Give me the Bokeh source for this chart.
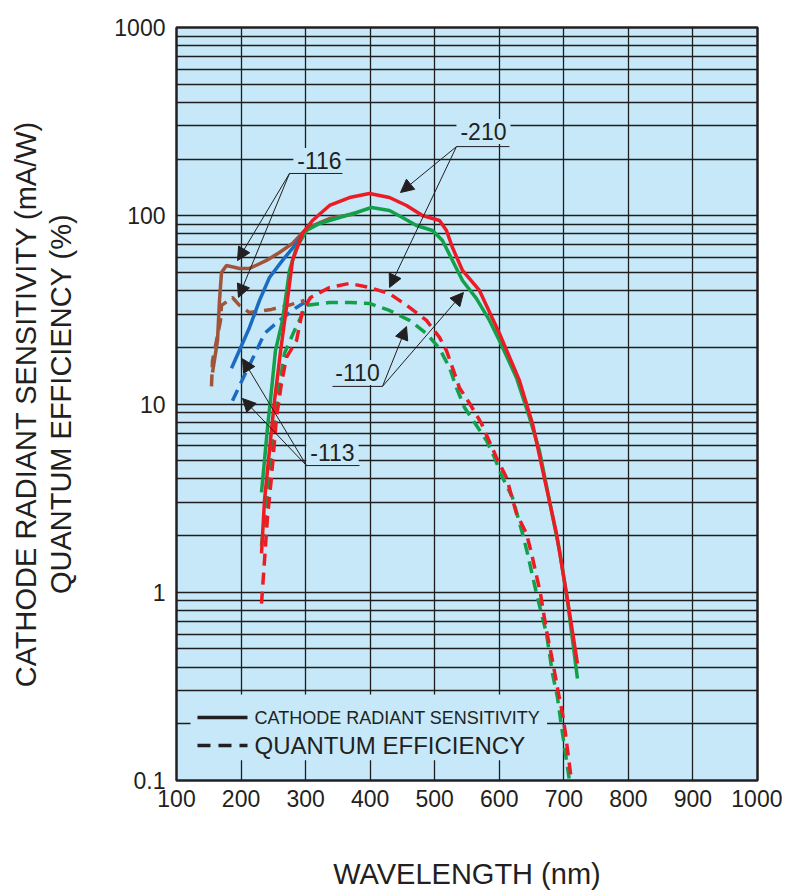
from bokeh.plotting import figure
from bokeh.models import FixedTicker, Label, Arrow, NormalHead, BoxAnnotation
from bokeh.embed import file_html
from bokeh.resources import INLINE

# ---------------- data ----------------
# -210 (red)
red_sens_nm = [231.7, 236.3, 244.0, 251.8, 258.0, 261.1, 270.4, 279.7, 295.2, 310.7, 337.0, 368.0,
               398.9, 429.9, 456.3, 481.0, 507.4, 518.2, 527.5, 543.0, 569.3, 600.3, 631.3, 651.4,
               673.1, 688.6, 704.1, 721.1]
red_sens = [1.61, 3.07, 5.66, 10.4, 15.5, 19.0, 32.6, 57.9, 80.5, 94.4, 113.4, 125.0,
            131.3, 125.0, 113.4, 100.3, 94.4, 83.5, 67.8, 51.2, 40.1, 23.7, 13.3, 7.88,
            3.60, 2.05, 0.985, 0.418]
red_qe_nm = [231.7, 236.3, 240.9, 247.1, 254.9, 262.6, 270.4, 285.9, 295.2, 307.7, 337.0, 368.0,
             398.9, 429.9, 460.9, 487.2, 507.4, 518.2, 527.5, 538.3, 553.8, 572.4, 595.6, 611.1,
             626.6, 642.1, 649.9, 663.8, 673.1, 682.4, 691.7, 697.9, 702.5, 707.2, 711.8, 713.4]
red_qe = [0.871, 1.47, 2.50, 4.07, 8.48, 12.9, 17.7, 21.7, 31.4, 36.8, 41.6, 43.7,
          41.6, 38.6, 32.6, 27.8, 22.6, 19.2, 15.6, 12.2, 10.1, 7.88, 5.20, 4.07,
          2.62, 2.05, 1.61, 0.985, 0.626, 0.434, 0.290, 0.227, 0.178, 0.1325, 0.100, 0.0885]

# -110 (green)
green_sens_nm = [231.7, 241.0, 247.1, 253.3, 264.2, 275.0, 285.9, 301.4, 321.5, 352.5, 378.8, 402.0,
                 429.9, 450.0, 471.7, 496.5, 512.0, 527.5, 543.0, 564.7, 584.8, 600.3, 626.6, 646.8,
                 662.2, 677.7, 693.2, 705.6, 721.1]
green_sens = [3.39, 7.50, 11.8, 19.2, 27.8, 51.2, 67.8, 83.5, 91.0, 97.9, 104.1, 110.6,
              106.6, 97.9, 88.8, 83.5, 73.9, 57.9, 45.3, 36.3, 27.8, 21.7, 13.8, 8.48,
              5.66, 3.07, 1.67, 0.904, 0.348]
green_qe_nm = [231.7, 237.9, 244.0, 251.8, 259.5, 267.3, 282.8, 301.4, 337.0, 368.0, 398.9, 429.9,
               460.9, 487.2, 507.4, 522.9, 533.7, 546.1, 561.6, 580.2, 592.5, 605.0, 620.4, 635.9,
               643.7, 657.6, 673.1, 682.4, 690.1, 697.9, 704.1, 708.7, 710.2]
green_qe = [1.77, 2.72, 4.43, 8.17, 12.5, 18.6, 24.6, 33.4, 34.6, 34.6, 34.2, 31.4,
            27.8, 23.7, 19.7, 15.6, 12.2, 9.58, 7.97, 6.40, 5.20, 4.07, 3.19, 2.05,
            1.61, 0.985, 0.604, 0.370, 0.276, 0.178, 0.128, 0.100, 0.0885]

# -113 (blue)
blue_sens_nm = [185.2, 213.1, 228.6, 244.0, 264.2, 285.9, 299.8]
blue_sens = [15.5, 25.5, 35.5, 47.0, 57.9, 71.3, 83.5]
blue_qe_nm = [186.7, 205.3, 223.9, 236.3, 259.5, 285.9, 298.3]
blue_qe = [10.4, 14.2, 19.2, 23.7, 27.8, 32.6, 34.6]

# -116 (brown)
brown_sens_nm = [155.8, 163.5, 166.6, 169.7, 177.4, 197.6, 213.1, 239.4, 259.5, 279.7, 301.4, 337.0, 378.8]
brown_sens = [14.7, 21.7, 35.5, 49.9, 54.4, 52.5, 52.5, 57.9, 63.8, 71.3, 85.6, 96.7, 102.8]
brown_qe_nm = [154.2, 155.8, 168.2, 169.7, 186.7, 197.6, 213.1, 247.1, 278.1, 298.3]
brown_qe = [12.4, 17.0, 27.8, 33.4, 36.8, 33.4, 30.6, 31.8, 33.8, 35.5]

x_ticks = [100, 200, 300, 400, 500, 600, 700, 800, 900, 1000]
y_ticks = [0.1, 1, 10, 100, 1000]
y_tick_labels = ["0.1", "1", "10", "100", "1000"]

series_labels = ["-116", "-210", "-110", "-113"]
legend_labels = ["CATHODE RADIANT SENSITIVITY", "QUANTUM EFFICIENCY"]

# ---------------- styles ----------------
BG = "#c6e8f8"
RED = "#ec1c24"
GREEN = "#13a04a"
BLUE = "#1b6cc0"
BROWN = "#a0553a"
INK = "#231f20"
FONT = "Liberation Sans"
LW = 3.5
DASH = "12 7"

p = figure(x_range=(100, 1000), y_range=(0.1, 1000), y_axis_type="log",
           frame_width=581, frame_height=753,
           min_border_left=176, min_border_right=25, min_border_top=27, min_border_bottom=106,
           output_backend="svg", toolbar_location=None)
p.background_fill_color = BG
p.border_fill_color = "white"
p.outline_line_color = INK
p.outline_line_width = 2.5

# grid
minor_y = [m * 10.0 ** e for e in range(-1, 3) for m in range(1, 10)] + [1000]
p.xgrid.ticker = FixedTicker(ticks=x_ticks)
p.ygrid.ticker = FixedTicker(ticks=minor_y)
for g in (p.xgrid[0], p.ygrid[0]):
    g.grid_line_color = "#1e1e1e"
    g.grid_line_width = 1.3
    g.grid_line_alpha = 1.0
p.ygrid.minor_grid_line_color = None

# axes
p.xaxis.ticker = FixedTicker(ticks=x_ticks)
p.yaxis.ticker = FixedTicker(ticks=y_ticks)
p.yaxis.major_label_overrides = {v: s for v, s in zip(y_ticks, y_tick_labels)}
for ax in (p.xaxis[0], p.yaxis[0]):
    ax.axis_line_color = None
    ax.major_tick_in = 0
    ax.major_tick_out = 0
    ax.minor_tick_in = 0
    ax.minor_tick_out = 0
    ax.major_label_text_font = FONT
    ax.major_label_text_font_size = "23px"
    ax.major_label_text_color = INK
    ax.axis_label_text_font = FONT
    ax.axis_label_text_font_size = "29px"
    ax.axis_label_text_font_style = "normal"
    ax.axis_label_text_color = INK
    ax.axis_label_text_line_height = 1.1
p.xaxis.major_label_standoff = 9
p.yaxis.major_label_standoff = 11
p.xaxis.axis_label = "WAVELENGTH (nm)"
p.xaxis.axis_label_standoff = 48
p.yaxis.axis_label = "CATHODE RADIANT SENSITIVITY (mA/W)\nQUANTUM EFFICIENCY (%)"
p.yaxis.axis_label_standoff = 34

# curves
p.line(green_qe_nm, green_qe, line_color=GREEN, line_width=LW, line_dash=DASH)
p.line(red_qe_nm, red_qe, line_color=RED, line_width=LW, line_dash=DASH)
p.line(blue_qe_nm, blue_qe, line_color=BLUE, line_width=LW, line_dash=DASH)
p.line(brown_qe_nm, brown_qe, line_color=BROWN, line_width=LW, line_dash=DASH)
p.line(brown_sens_nm, brown_sens, line_color=BROWN, line_width=LW)
p.line(blue_sens_nm, blue_sens, line_color=BLUE, line_width=LW)
p.line(green_sens_nm, green_sens, line_color=GREEN, line_width=LW)
p.line(red_sens_nm, red_sens, line_color=RED, line_width=LW)

# legend (drawn by hand to match the reference)
p.add_layout(BoxAnnotation(left=121.7, right=674, bottom=0.128, top=0.286,
                           fill_color=BG, fill_alpha=1, line_color=None))
p.add_layout(Arrow(end=None, x_start=132.5, y_start=0.216, x_end=210.0, y_end=0.216,
                   line_color=INK, line_width=3.5))
p.add_layout(Arrow(end=None, x_start=132.5, y_start=0.1534, x_end=210.0, y_end=0.1534,
                   line_color=INK, line_width=3.5, line_dash="13 8"))
p.add_layout(Label(x=220.8, y=0.216, text=legend_labels[0], text_font=FONT,
                   text_font_size="18px", text_color=INK, text_baseline="middle"))
p.add_layout(Label(x=220.8, y=0.1534, text=legend_labels[1], text_font=FONT,
                   text_font_size="24px", text_color=INK, text_baseline="middle"))

# part-number note
p.add_layout(Label(x=100, y=1000, x_offset=3, y_offset=6, text="TPMHB0814ED", text_font=FONT,
                   text_font_size="13px", text_color=INK, text_baseline="bottom"))

# callouts: (text pos, underline, anchor, tips)
callouts = [
    (series_labels[0], (321.5, 196.6), (275.0, 357.1, 167.7), (275.0, 167.7), [(194.5, 57.8), (196.0, 36.8)]),
    (series_labels[1], (575.5, 280.0), (533.7, 615.8, 233.0), (533.7, 233.0), [(447.0, 132.9), (430.0, 41.6)]),
    (series_labels[2], (380.4, 14.7), (341.6, 419.1, 12.4), (419.1, 12.4), [(544.5, 39.1), (456.3, 25.8)]),
    (series_labels[3], (341.6, 5.53), (301.4, 383.5, 4.71), (301.4, 4.71), [(202.2, 17.4), (202.2, 10.7)]),
]
for txt, (tx, ty), (ux0, ux1, uy), (ax0, ay0), tips in callouts:
    p.add_layout(Label(x=tx, y=ty, text=txt, text_font=FONT, text_font_size="23px", text_color=INK,
                       text_align="center", text_baseline="middle",
                       background_fill_color=BG, background_fill_alpha=1, padding=4))
    p.add_layout(Arrow(end=None, x_start=ux0, y_start=uy, x_end=ux1, y_end=uy,
                       line_color=INK, line_width=1))
    for (ex, ey) in tips:
        p.add_layout(Arrow(end=NormalHead(size=13, fill_color=INK, line_color=INK, line_width=1),
                           x_start=ax0, y_start=ay0, x_end=ex, y_end=ey,
                           line_color=INK, line_width=1))

open("out.html", "w").write(file_html(p, INLINE))
